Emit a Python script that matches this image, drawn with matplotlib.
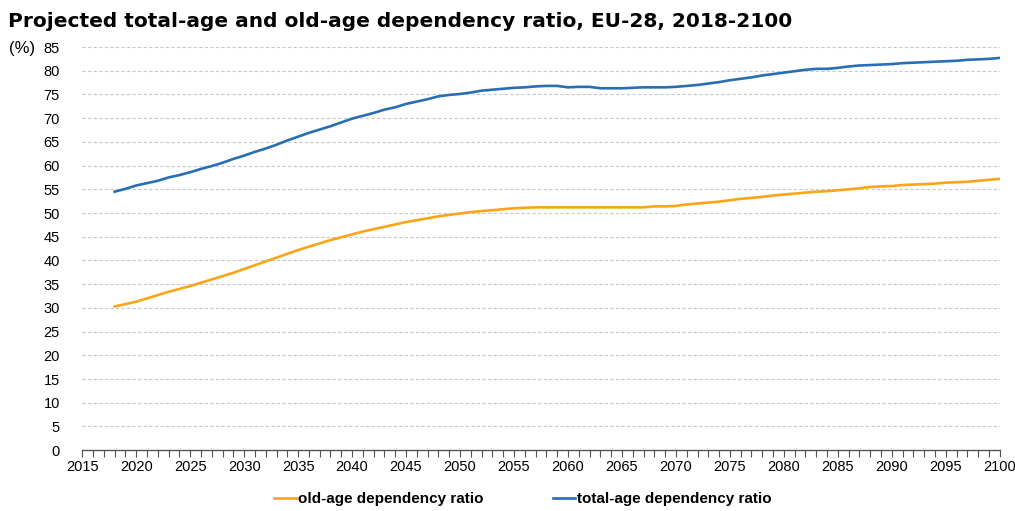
import numpy as np
import matplotlib.pyplot as plt
from matplotlib.ticker import MultipleLocator

plt.rcParams['font.family'] = ['Liberation Sans', 'DejaVu Sans']

years = list(range(2018, 2101))

old_age = [30.3, 30.8, 31.3, 32.0, 32.7, 33.4, 34.0, 34.6, 35.3, 36.0,
           36.7, 37.4, 38.2, 39.0, 39.8, 40.6, 41.4, 42.2, 42.9, 43.6,
           44.3, 44.9, 45.5, 46.1, 46.6, 47.1, 47.6, 48.1, 48.5, 48.9,
           49.3, 49.6, 49.9, 50.2, 50.4, 50.6, 50.8, 51.0, 51.1, 51.2,
           51.2, 51.2, 51.2, 51.2, 51.2, 51.2, 51.2, 51.2, 51.2, 51.2,
           51.4, 51.4, 51.5, 51.8, 52.0, 52.2, 52.4, 52.7, 53.0, 53.2,
           53.4, 53.7, 53.9, 54.1, 54.3, 54.5, 54.6, 54.8, 55.0, 55.2,
           55.5, 55.6, 55.7, 55.9, 56.0, 56.1, 56.2, 56.4, 56.5, 56.6,
           56.8, 57.0, 57.2]

total_age = [54.5, 55.1, 55.8, 56.3, 56.8, 57.5, 58.0, 58.6, 59.3, 59.9,
             60.6, 61.4, 62.1, 62.9, 63.6, 64.4, 65.3, 66.1, 66.9, 67.6,
             68.3, 69.1, 69.9, 70.5, 71.1, 71.8, 72.3, 73.0, 73.5, 74.0,
             74.6, 74.9, 75.1, 75.4, 75.8, 76.0, 76.2, 76.4, 76.5, 76.7,
             76.8, 76.8, 76.5, 76.6, 76.6, 76.3, 76.3, 76.3, 76.4, 76.5,
             76.5, 76.5, 76.6, 76.8, 77.0, 77.3, 77.6, 78.0, 78.3, 78.6,
             79.0, 79.3, 79.6, 79.9, 80.2, 80.4, 80.4, 80.6, 80.9, 81.1,
             81.2, 81.3, 81.4, 81.6, 81.7, 81.8, 81.9, 82.0, 82.1, 82.3,
             82.4, 82.5, 82.7]

fig = plt.figure(figsize=(10.15, 5.11), dpi=100)
ax = fig.add_axes([0.081, 0.119, 0.904, 0.789])

ax.plot(years, old_age, color='#FAA519', lw=1.9, label='old-age dependency ratio')
ax.plot(years, total_age, color='#286EB4', lw=1.9, label='total-age dependency ratio')

ax.set_xlim(2015, 2100)
ax.set_ylim(0, 85)
ax.xaxis.set_major_locator(MultipleLocator(5))
ax.xaxis.set_minor_locator(MultipleLocator(1))
ax.yaxis.set_major_locator(MultipleLocator(5))

ax.grid(axis='y', color='#c8c8c8', linestyle=(0, (3, 2)), lw=0.8)
ax.set_axisbelow(True)
for s in ['top', 'right', 'left']:
    ax.spines[s].set_visible(False)
ax.spines['bottom'].set_color('#555555')
ax.spines['bottom'].set_linewidth(1.0)

ax.tick_params(axis='x', which='both', direction='out', length=5, width=0.8,
               color='#555555', labelsize=10.5, pad=2)
ax.tick_params(axis='y', length=0, labelsize=10.5, pad=16)

fig.text(0.008, 0.958, 'Projected total-age and old-age dependency ratio, EU-28, 2018-2100',
         fontsize=14.5, fontweight='bold', family='DejaVu Sans', va='center', ha='left')
fig.text(0.009, 0.905, '(%)', fontsize=12, va='center', ha='left')

fig.legend(loc='lower center', bbox_to_anchor=(0.515, -0.017), ncol=2, frameon=False,
           prop={'size': 11, 'weight': 'bold'}, handlelength=1.5, handletextpad=0.1,
           columnspacing=4.5)

fig.savefig('out.png', dpi=100)
